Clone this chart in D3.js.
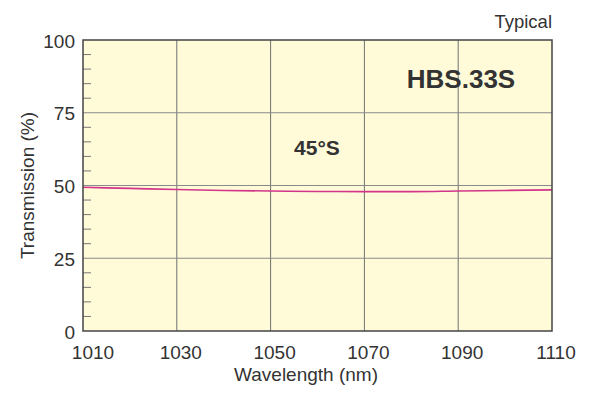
<!DOCTYPE html>
<html lang="en">
<head>
  <meta charset="UTF-8">
  <title>HBS.33S Transmission</title>
  <script src="https://d3js.org/d3.v7.min.js"></script>
  <style>
    body { margin: 0; background: #fff; }
    svg { display: block; font-family: "Liberation Sans", Arial, sans-serif; }
  </style>
</head>
<body>
  <svg id="chart" width="600" height="396"></svg>
  <script>
    // data
    const wavelengths = [1010, 1020, 1030, 1040, 1050, 1060, 1070, 1080, 1090, 1100, 1110];
    const transmission = [49.4, 49.0, 48.6, 48.3, 48.1, 47.95, 47.9, 47.9, 48.1, 48.3, 48.5];
    const xTicks = [1010, 1030, 1050, 1070, 1090, 1110];
    const yTicks = [0, 25, 50, 75, 100];
    const yMinor = d3.range(0, 101, 5);

    const svg = d3.select('#chart');
    const plotL = 83, plotR = 552, plotT = 40, plotB = 331;

    const x = d3.scaleLinear().domain([1010, 1110]).range([plotL, plotR]);
    const y = d3.scaleLinear().domain([0, 100]).range([plotB, plotT]);

    // plot background
    svg.append('rect')
      .attr('x', plotL).attr('y', plotT)
      .attr('width', plotR - plotL).attr('height', plotB - plotT)
      .attr('fill', '#fffbd9');

    // grid lines
    svg.append('g').selectAll('line')
      .data(xTicks.slice(1, -1))
      .join('line')
        .attr('x1', d => x(d)).attr('x2', d => x(d))
        .attr('y1', plotT).attr('y2', plotB)
        .attr('stroke', '#707070').attr('stroke-width', 1);

    svg.append('g').selectAll('line')
      .data(yTicks.slice(1, -1))
      .join('line')
        .attr('x1', plotL).attr('x2', plotR)
        .attr('y1', d => y(d)).attr('y2', d => y(d))
        .attr('stroke', '#8a8a8a').attr('stroke-width', 1);

    // minor ticks on the left axis, pointing inward
    svg.append('g').selectAll('line')
      .data(yMinor.filter(v => v % 25 !== 0))
      .join('line')
        .attr('x1', plotL).attr('x2', plotL + 8)
        .attr('y1', d => y(d)).attr('y2', d => y(d))
        .attr('stroke', '#777').attr('stroke-width', 1);

    // transmission curve
    const line = d3.line()
      .x((d, i) => x(wavelengths[i]))
      .y(d => y(d))
      .curve(d3.curveMonotoneX);

    svg.append('path')
      .datum(transmission)
      .attr('d', line)
      .attr('fill', 'none')
      .attr('stroke', '#d2358a')
      .attr('stroke-width', 1.6);

    // frame
    svg.append('rect')
      .attr('x', plotL).attr('y', plotT)
      .attr('width', plotR - plotL).attr('height', plotB - plotT)
      .attr('fill', 'none')
      .attr('stroke', '#444').attr('stroke-width', 1.5);

    // tick labels
    svg.append('g').selectAll('text')
      .data(yTicks)
      .join('text')
        .attr('x', plotL - 8)
        .attr('y', d => y(d))
        .attr('dy', '0.4em')
        .attr('text-anchor', 'end')
        .attr('font-size', 19)
        .attr('fill', '#333')
        .text(d => d);

    svg.append('g').selectAll('text')
      .data(xTicks)
      .join('text')
        .attr('x', (d, i) => x(d) + (i === 0 ? 10 : 4))
        .attr('y', 359)
        .attr('text-anchor', 'middle')
        .attr('font-size', 19)
        .attr('fill', '#333')
        .text(d => d);

    // axis titles
    svg.append('text')
      .attr('x', 306).attr('y', 381)
      .attr('text-anchor', 'middle')
      .attr('font-size', 19)
      .attr('fill', '#333')
      .text('Wavelength (nm)');

    svg.append('text')
      .attr('transform', 'translate(34,' + ((plotT + plotB) / 2) + ') rotate(-90)')
      .attr('text-anchor', 'middle')
      .attr('font-size', 19)
      .attr('fill', '#333')
      .text('Transmission (%)');

    // annotations
    svg.append('text')
      .attr('x', plotR).attr('y', 28)
      .attr('text-anchor', 'end')
      .attr('font-size', 18.5)
      .attr('fill', '#333')
      .text('Typical');

    svg.append('text')
      .attr('x', 461).attr('y', 88)
      .attr('text-anchor', 'middle')
      .attr('font-size', 26)
      .attr('font-weight', 'bold')
      .attr('fill', '#333')
      .text('HBS.33S');

    svg.append('text')
      .attr('x', 317).attr('y', 155)
      .attr('text-anchor', 'middle')
      .attr('font-size', 21)
      .attr('font-weight', 'bold')
      .attr('fill', '#333')
      .text('45°S');
  </script>
</body>
</html>
